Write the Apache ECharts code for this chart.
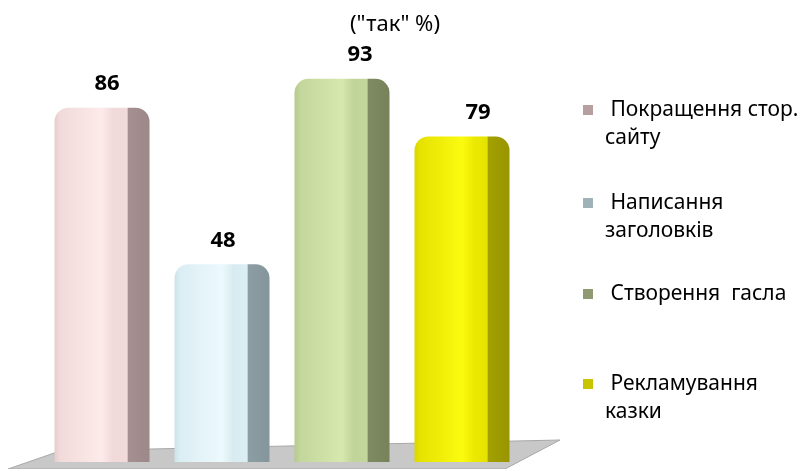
<!DOCTYPE html>
<html><head><meta charset="utf-8">
<script src="https://cdn.jsdelivr.net/npm/echarts@6/dist/echarts.min.js"></script>
<style>html,body{margin:0;padding:0;background:#fff}#c{width:801px;height:469px}</style>
</head><body><div id="c"></div>
<script>
const categories = ['Покращення стор. сайту', 'Написання заголовків', 'Створення  гасла', 'Рекламування казки'];
const seriesNames = ['Покращення стор.\nсайту', 'Написання\nзаголовків', 'Створення  гасла', 'Рекламування\nказки'];
const values = [86, 48, 93, 79];
const subtitle = '("так" %)';
const palettes = [
  ['#e6cdcc', '#f1dbda', '#fdeaea', '#f0d9d8', '#a69091', '#9c8889'],
  ['#cde2e9', '#dbeef3', '#ecf9fd', '#d8ebf0', '#8c9ea4', '#84959b'],
  ['#b6ca8d', '#c3d69b', '#d6e8ad', '#c0d398', '#7f8b62', '#77825b'],
  ['#dad600', '#e6e200', '#fbfb10', '#ecea00', '#a3a000', '#989500']
];
const legendIconY = [110, 203, 294, 384];
const legendIcons = ['#b89f9f', '#9fb2b8', '#8f9a70', '#c8c400'];
const labelShift = [5, 1, 18, 16];

const chart = echarts.init(document.getElementById('c'));
const series = values.map((v, i) => {
  const p = palettes[i];
  const data = categories.map((c, j) => j === i ? v : '-');
  return {
    name: seriesNames[i],
    type: 'bar',
    data: data,
    barWidth: 95,
    barGap: '-100%',
    itemStyle: {
      borderRadius: [14, 14, 0, 0],
      color: new echarts.graphic.LinearGradient(0, 0, 1, 0, [
        {offset: 0, color: p[0]},
        {offset: 0.06, color: p[1]},
        {offset: 0.5, color: p[2]},
        {offset: 0.62, color: p[3]},
        {offset: 0.765, color: p[1]},
        {offset: 0.775, color: p[4]},
        {offset: 1, color: p[5]}
      ])
    },
    label: {
      show: true, position: 'top', distance: 13,
      offset: [labelShift[i], 0],
      fontFamily: 'Noto Sans', fontWeight: 'bold', fontSize: 22, color: '#000'
    }
  };
});

const LH = 28;
const legends = seriesNames.map((n, i) => {
  const two = n.indexOf('\n') >= 0;
  const h = two ? 3 * LH : LH;
  return {
    orient: 'vertical',
    left: 578,
    top: legendIconY[i] - h / 2 - 5,
    itemWidth: 10, itemHeight: 10,
    icon: 'rect',
    selectedMode: false,
    data: [{name: n, itemStyle: {color: legendIcons[i]}}],
    formatter: name => {
      const parts = name.split('\n');
      let s = '\u00a0' + parts[0];
      if (parts.length > 1) s = '\u00a0\n' + s + '\n' + parts[1];
      return s;
    },
    textStyle: {fontFamily: 'Noto Sans', fontSize: 21, color: '#000', lineHeight: LH, padding: [0, 0, 0, 7]}
  };
});

chart.setOption({
  animation: false,
  title: {
    text: subtitle, left: 390, top: 9, textAlign: 'center',
    textStyle: {fontFamily: 'Noto Sans', fontSize: 22, fontWeight: 'normal', color: '#000'}
  },
  legend: legends,
  grid: {left: 42, top: 50, width: 480, bottom: 7},
  xAxis: {
    type: 'category', data: categories,
    axisLine: {show: false}, axisTick: {show: false}, axisLabel: {show: false}
  },
  yAxis: {
    type: 'value', min: 0, max: 100,
    axisLine: {show: false}, axisTick: {show: false}, axisLabel: {show: false}, splitLine: {show: false}
  },
  graphic: [{
    type: 'polygon', z: -10,
    shape: {points: [[8, 469], [60, 451], [560, 440], [505, 469]]},
    style: {fill: '#c8c8c8', stroke: '#a8a8a8', lineWidth: 1}
  }],
  series: series
});
</script></body></html>
